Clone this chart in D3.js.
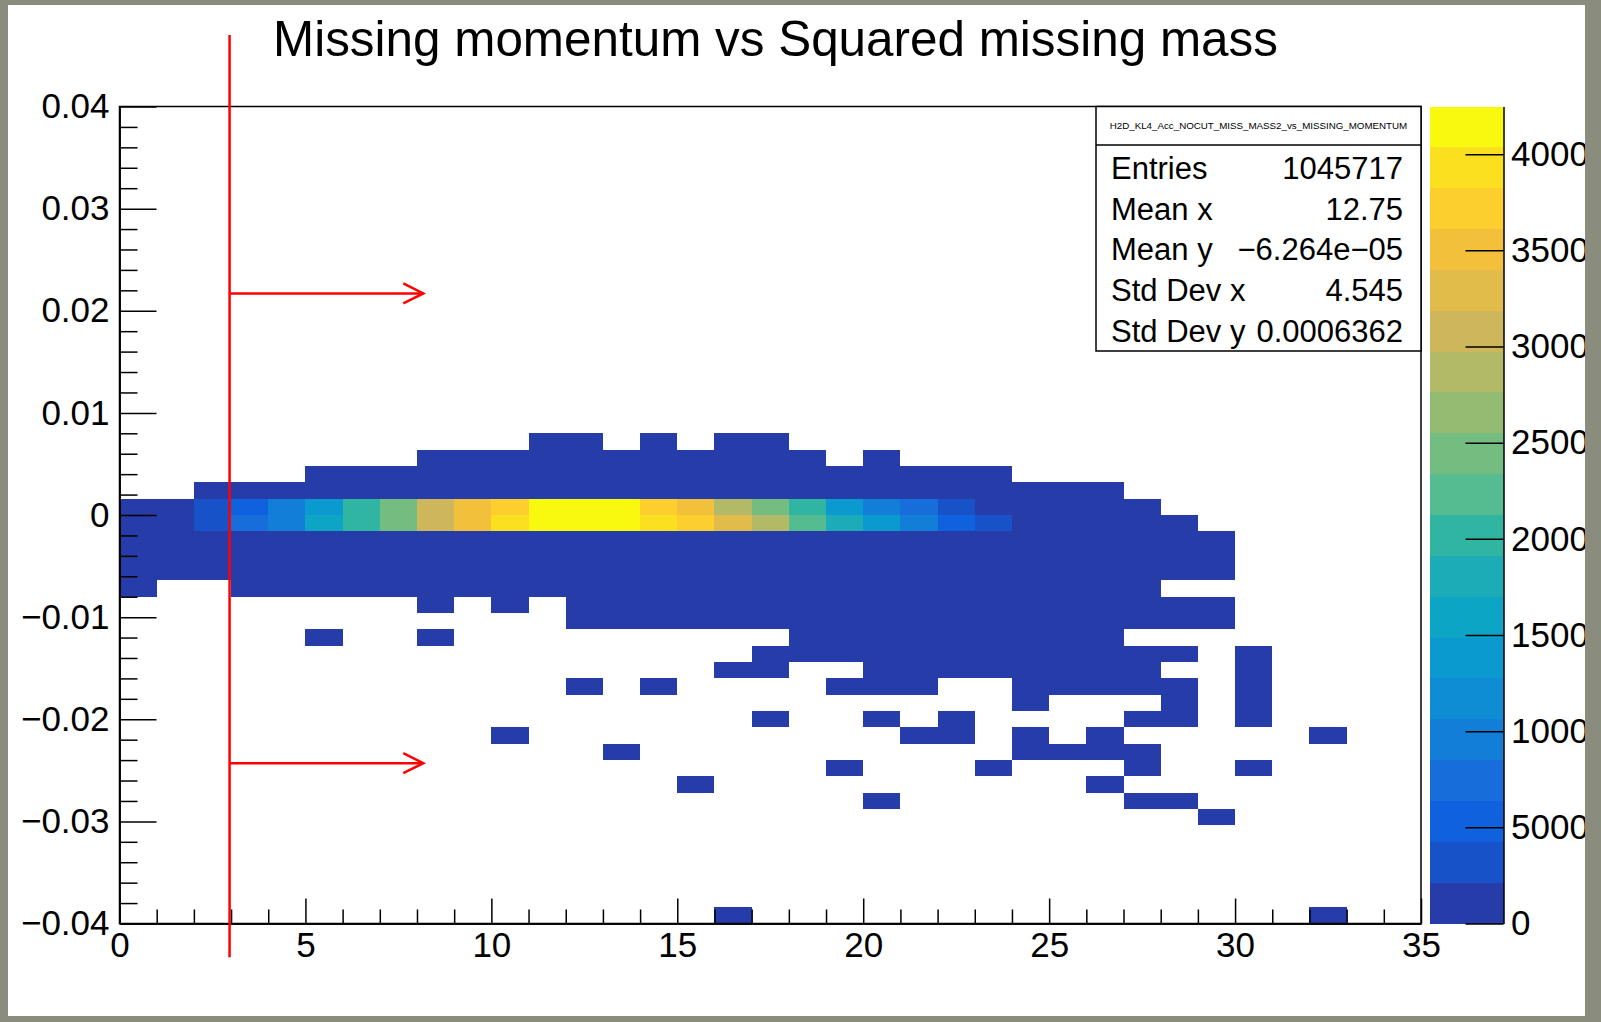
<!DOCTYPE html>
<html><head><meta charset="utf-8">
<script src="https://cdn.jsdelivr.net/npm/d3@7"></script>
<style>html,body{margin:0;padding:0;background:#8a8d7d;overflow:hidden}</style>
</head><body>
<svg id="c" width="1601" height="1022"></svg>
<script>
// ---------------- data ----------------
const title = "Missing momentum vs Squared missing mass";
const histName = "H2D_KL4_Acc_NOCUT_MISS_MASS2_vs_MISSING_MOMENTUM";
const statLabels = ["Entries", "Mean x", "Mean y", "Std Dev x", "Std Dev y"];
const statValues = ["1045717", "12.75", "\u22126.264e\u221205", "4.545", "0.0006362"];

const xDomain = [0, 35];
const xBinWidth = 1;
const yDomain = [-0.04, 0.04];
const yBinWidth = 0.0016;
const xTickValues = [0, 5, 10, 15, 20, 25, 30, 35];
const yTickValues = [-0.04, -0.03, -0.02, -0.01, 0, 0.01, 0.02, 0.03, 0.04];
const zTickValues = [0, 5000, 10000, 15000, 20000, 25000, 30000, 35000, 40000];
const paletteColors = ["#263ca8", "#1752c8", "#0f61de", "#176dda", "#137ed7",
  "#0e8dd4", "#0b9acf", "#0ca5c6", "#1cacb7", "#30b5a2",
  "#54bc90", "#74bd80", "#93bc72", "#b2b967", "#ceb65b",
  "#e2bc4a", "#f3c03b", "#fccf2e", "#fbe01f", "#f9f90f"];

// y-bin 25 : y in [0, 0.0016), x-bins from 0
const countsAboveZero = [1500, 1400, 3200, 5300, 9600, 13800, 20200, 24400, 30800, 35000,
  37200, 41800, 42480, 41600, 37200, 35000, 28700, 24400, 20200, 13800,
  9600, 7400, 3200, 1500, 900, 600, 300, 100];
// y-bin 24 : y in [-0.0016, 0), x-bins from 0
const countsBelowZero = [1600, 1500, 3300, 7400, 9600, 16000, 20200, 24400, 30800, 35000,
  39300, 41500, 42100, 41200, 39300, 37200, 33000, 28700, 22300, 18000,
  13800, 9600, 5300, 3200, 1800, 1200, 700, 300, 80];
// other occupied cells: [yBin, first xBin, last xBin, estimated count]
const sparseRuns = [
  [29, 11, 12, 3], [29, 14, 14, 2], [29, 16, 17, 2],
  [28, 8, 18, 25], [28, 20, 20, 4],
  [27, 5, 23, 150],
  [26, 2, 26, 900],
  [23, 0, 29, 1500],
  [22, 0, 29, 400],
  [21, 0, 29, 120],
  [20, 0, 0, 30], [20, 3, 27, 40],
  [19, 8, 8, 2], [19, 10, 10, 2], [19, 12, 29, 10],
  [18, 12, 29, 6],
  [17, 5, 5, 1], [17, 8, 8, 1], [17, 18, 26, 3],
  [16, 17, 28, 2], [16, 30, 30, 1],
  [15, 16, 17, 1], [15, 20, 27, 2], [15, 30, 30, 1],
  [14, 12, 12, 1], [14, 14, 14, 1], [14, 19, 21, 1], [14, 24, 28, 1], [14, 30, 30, 1],
  [13, 24, 24, 1], [13, 28, 28, 1], [13, 30, 30, 1],
  [12, 17, 17, 1], [12, 20, 20, 1], [12, 22, 22, 1], [12, 27, 28, 1], [12, 30, 30, 1],
  [11, 10, 10, 1], [11, 21, 22, 1], [11, 24, 24, 1], [11, 26, 26, 1], [11, 32, 32, 1],
  [10, 13, 13, 1], [10, 24, 27, 1],
  [9, 19, 19, 1], [9, 23, 23, 1], [9, 27, 27, 1], [9, 30, 30, 1],
  [8, 15, 15, 1], [8, 26, 26, 1],
  [7, 20, 20, 1], [7, 27, 28, 1],
  [6, 29, 29, 1],
  [0, 16, 16, 1], [0, 32, 32, 1]
];
// red annotations (data units)
const cutX = 2.96;
const cutLineY = [-0.0433, 0.047];
const arrowYs = [0.0217, -0.0243];
const arrowTipX = 8.17;

// ---------------- layout ----------------
const W = 1601, H = 1022;
const plot = {left: 119.5, right: 1421, top: 106.5, bottom: 923.5};
const cbar = {left: 1429.5, right: 1503.5};
const FONT = "'Liberation Sans', Arial, Helvetica, sans-serif";

const svg = d3.select("#c");
svg.append("rect").attr("x", 8).attr("y", 5).attr("width", 1577).attr("height", 1011).attr("fill", "#fff");

const xs = d3.scaleLinear().domain(xDomain).range([plot.left, plot.right]);
const ys = d3.scaleLinear().domain(yDomain).range([plot.bottom, plot.top]);

// cells
const cells = [];
countsAboveZero.forEach((z, i) => { if (z > 0) cells.push({xb: i, yb: 25, z}); });
countsBelowZero.forEach((z, i) => { if (z > 0) cells.push({xb: i, yb: 24, z}); });
sparseRuns.forEach(([yb, a, b, z]) => { for (let xb = a; xb <= b; xb++) cells.push({xb, yb, z}); });

const zMax = d3.max(cells, d => d.z);
const zColor = d3.scaleQuantize().domain([0, zMax]).range(paletteColors);

svg.append("g").attr("shape-rendering", "crispEdges")
  .selectAll("rect").data(cells).join("rect")
  .attr("x", d => xs(d.xb * xBinWidth))
  .attr("width", d => xs((d.xb + 1) * xBinWidth) - xs(d.xb * xBinWidth))
  .attr("y", d => ys(yDomain[0] + (d.yb + 1) * yBinWidth))
  .attr("height", d => ys(yDomain[0] + d.yb * yBinWidth) - ys(yDomain[0] + (d.yb + 1) * yBinWidth))
  .attr("fill", d => zColor(d.z));

// frame
svg.append("rect").attr("x", plot.left).attr("y", plot.top)
  .attr("width", plot.right - plot.left).attr("height", plot.bottom - plot.top)
  .attr("fill", "none").attr("stroke", "#000").attr("stroke-width", 1.5);

function styleAxis(g) {
  g.attr("font-family", FONT).attr("font-size", 35);
  g.selectAll("line").attr("stroke", "#000").attr("stroke-width", 1.5);
  g.selectAll("path").attr("stroke", "#000").attr("stroke-width", 1.5);
  g.selectAll("text").attr("fill", "#000");
}
const fmtY = v => v === 0 ? "0" : (v < 0 ? "\u2212" : "") + Math.abs(v).toFixed(2);

// y axis minor
const yMinor = d3.range(-0.04, 0.0401, 0.002).map(v => +v.toFixed(4)).filter(v => Math.abs(v * 100 - Math.round(v * 100)) > 1e-6);
svg.append("g").attr("transform", `translate(${plot.left},0)`)
  .call(d3.axisLeft(ys).tickValues(yMinor).tickSize(-18).tickFormat("").tickSizeOuter(0))
  .call(styleAxis);
svg.append("g").attr("transform", `translate(${plot.left},0)`)
  .call(d3.axisLeft(ys).tickValues(yTickValues).tickSize(-37).tickPadding(10).tickFormat(fmtY).tickSizeOuter(0))
  .call(styleAxis);

// x axis minor + major
const xMinor = d3.range(0, 36, 1).filter(v => v % 5 !== 0);
svg.append("g").attr("transform", `translate(0,${plot.bottom})`)
  .call(d3.axisBottom(xs).tickValues(xMinor).tickSize(-14).tickFormat("").tickSizeOuter(0))
  .call(styleAxis);
svg.append("g").attr("transform", `translate(0,${plot.bottom})`)
  .call(d3.axisBottom(xs).tickValues(xTickValues).tickSize(-25).tickPadding(9).tickFormat(d3.format("d")).tickSizeOuter(0))
  .call(styleAxis);

// colour bar
const zs = d3.scaleLinear().domain([0, zMax]).range([plot.bottom, plot.top]);
const levels = d3.range(paletteColors.length).map(i => ({lo: i * zMax / paletteColors.length, hi: (i + 1) * zMax / paletteColors.length, c: paletteColors[i]}));
svg.append("g").attr("shape-rendering", "crispEdges").selectAll("rect").data(levels).join("rect")
  .attr("x", cbar.left).attr("width", cbar.right - cbar.left)
  .attr("y", d => zs(d.hi)).attr("height", d => zs(d.lo) - zs(d.hi))
  .attr("fill", d => d.c);
svg.append("g").attr("transform", `translate(${cbar.right},0)`)
  .call(d3.axisRight(zs).tickValues(zTickValues).tickSize(-38).tickPadding(7.5).tickFormat(d3.format("d")).tickSizeOuter(0))
  .call(styleAxis);

// stats box
const sb = {left: 1096, right: plot.right, top: plot.top, div: 145, bottom: 351};
svg.append("rect").attr("x", sb.left).attr("y", sb.top).attr("width", sb.right - sb.left).attr("height", sb.bottom - sb.top)
  .attr("fill", "#fff").attr("stroke", "#000").attr("stroke-width", 1.5);
svg.append("line").attr("x1", sb.left).attr("x2", sb.right).attr("y1", sb.div).attr("y2", sb.div)
  .attr("stroke", "#000").attr("stroke-width", 1.5);
const hn = svg.append("text").attr("x", (sb.left + sb.right) / 2).attr("y", 129).attr("text-anchor", "middle")
  .attr("font-family", FONT).attr("font-size", 10).text(histName);
const hnw = hn.node().getComputedTextLength();
hn.attr("font-size", 10 * 298 / hnw);
statLabels.forEach((l, i) => {
  const by = 178.7 + i * 40.8;
  svg.append("text").attr("x", 1111).attr("y", by).attr("font-family", FONT).attr("font-size", 31).text(l);
  svg.append("text").attr("x", 1403).attr("y", by).attr("text-anchor", "end").attr("font-family", FONT).attr("font-size", 31).text(statValues[i]);
});

// title
const t = svg.append("text").attr("x", 775.5).attr("y", 56).attr("text-anchor", "middle")
  .attr("font-family", FONT).attr("font-size", 49.5).text(title);
const tw = t.node().getComputedTextLength();
t.attr("font-size", 49.5 * 1005 / tw);

// red annotations
const red = svg.append("g").attr("stroke", "#ff0000").attr("stroke-width", 2.5).attr("fill", "none");
red.append("line").attr("x1", xs(cutX)).attr("x2", xs(cutX)).attr("y1", ys(cutLineY[0])).attr("y2", ys(cutLineY[1]));
arrowYs.forEach(v => {
  const yy = ys(v), x0 = xs(cutX), x1 = xs(arrowTipX);
  red.append("line").attr("x1", x0).attr("x2", x1).attr("y1", yy).attr("y2", yy);
  red.append("path").attr("d", `M${x1 - 20},${yy - 10} L${x1},${yy} L${x1 - 20},${yy + 10}`);
});

// grey surround (clips the colour-bar labels like the original)
const border = svg.append("g").attr("fill", "#8a8d7d");
border.append("rect").attr("x", 0).attr("y", 0).attr("width", W).attr("height", 5);
border.append("rect").attr("x", 0).attr("y", 1016).attr("width", W).attr("height", 6);
border.append("rect").attr("x", 0).attr("y", 0).attr("width", 8).attr("height", H);
border.append("rect").attr("x", 1585).attr("y", 0).attr("width", 16).attr("height", H);
</script>
</body></html>
